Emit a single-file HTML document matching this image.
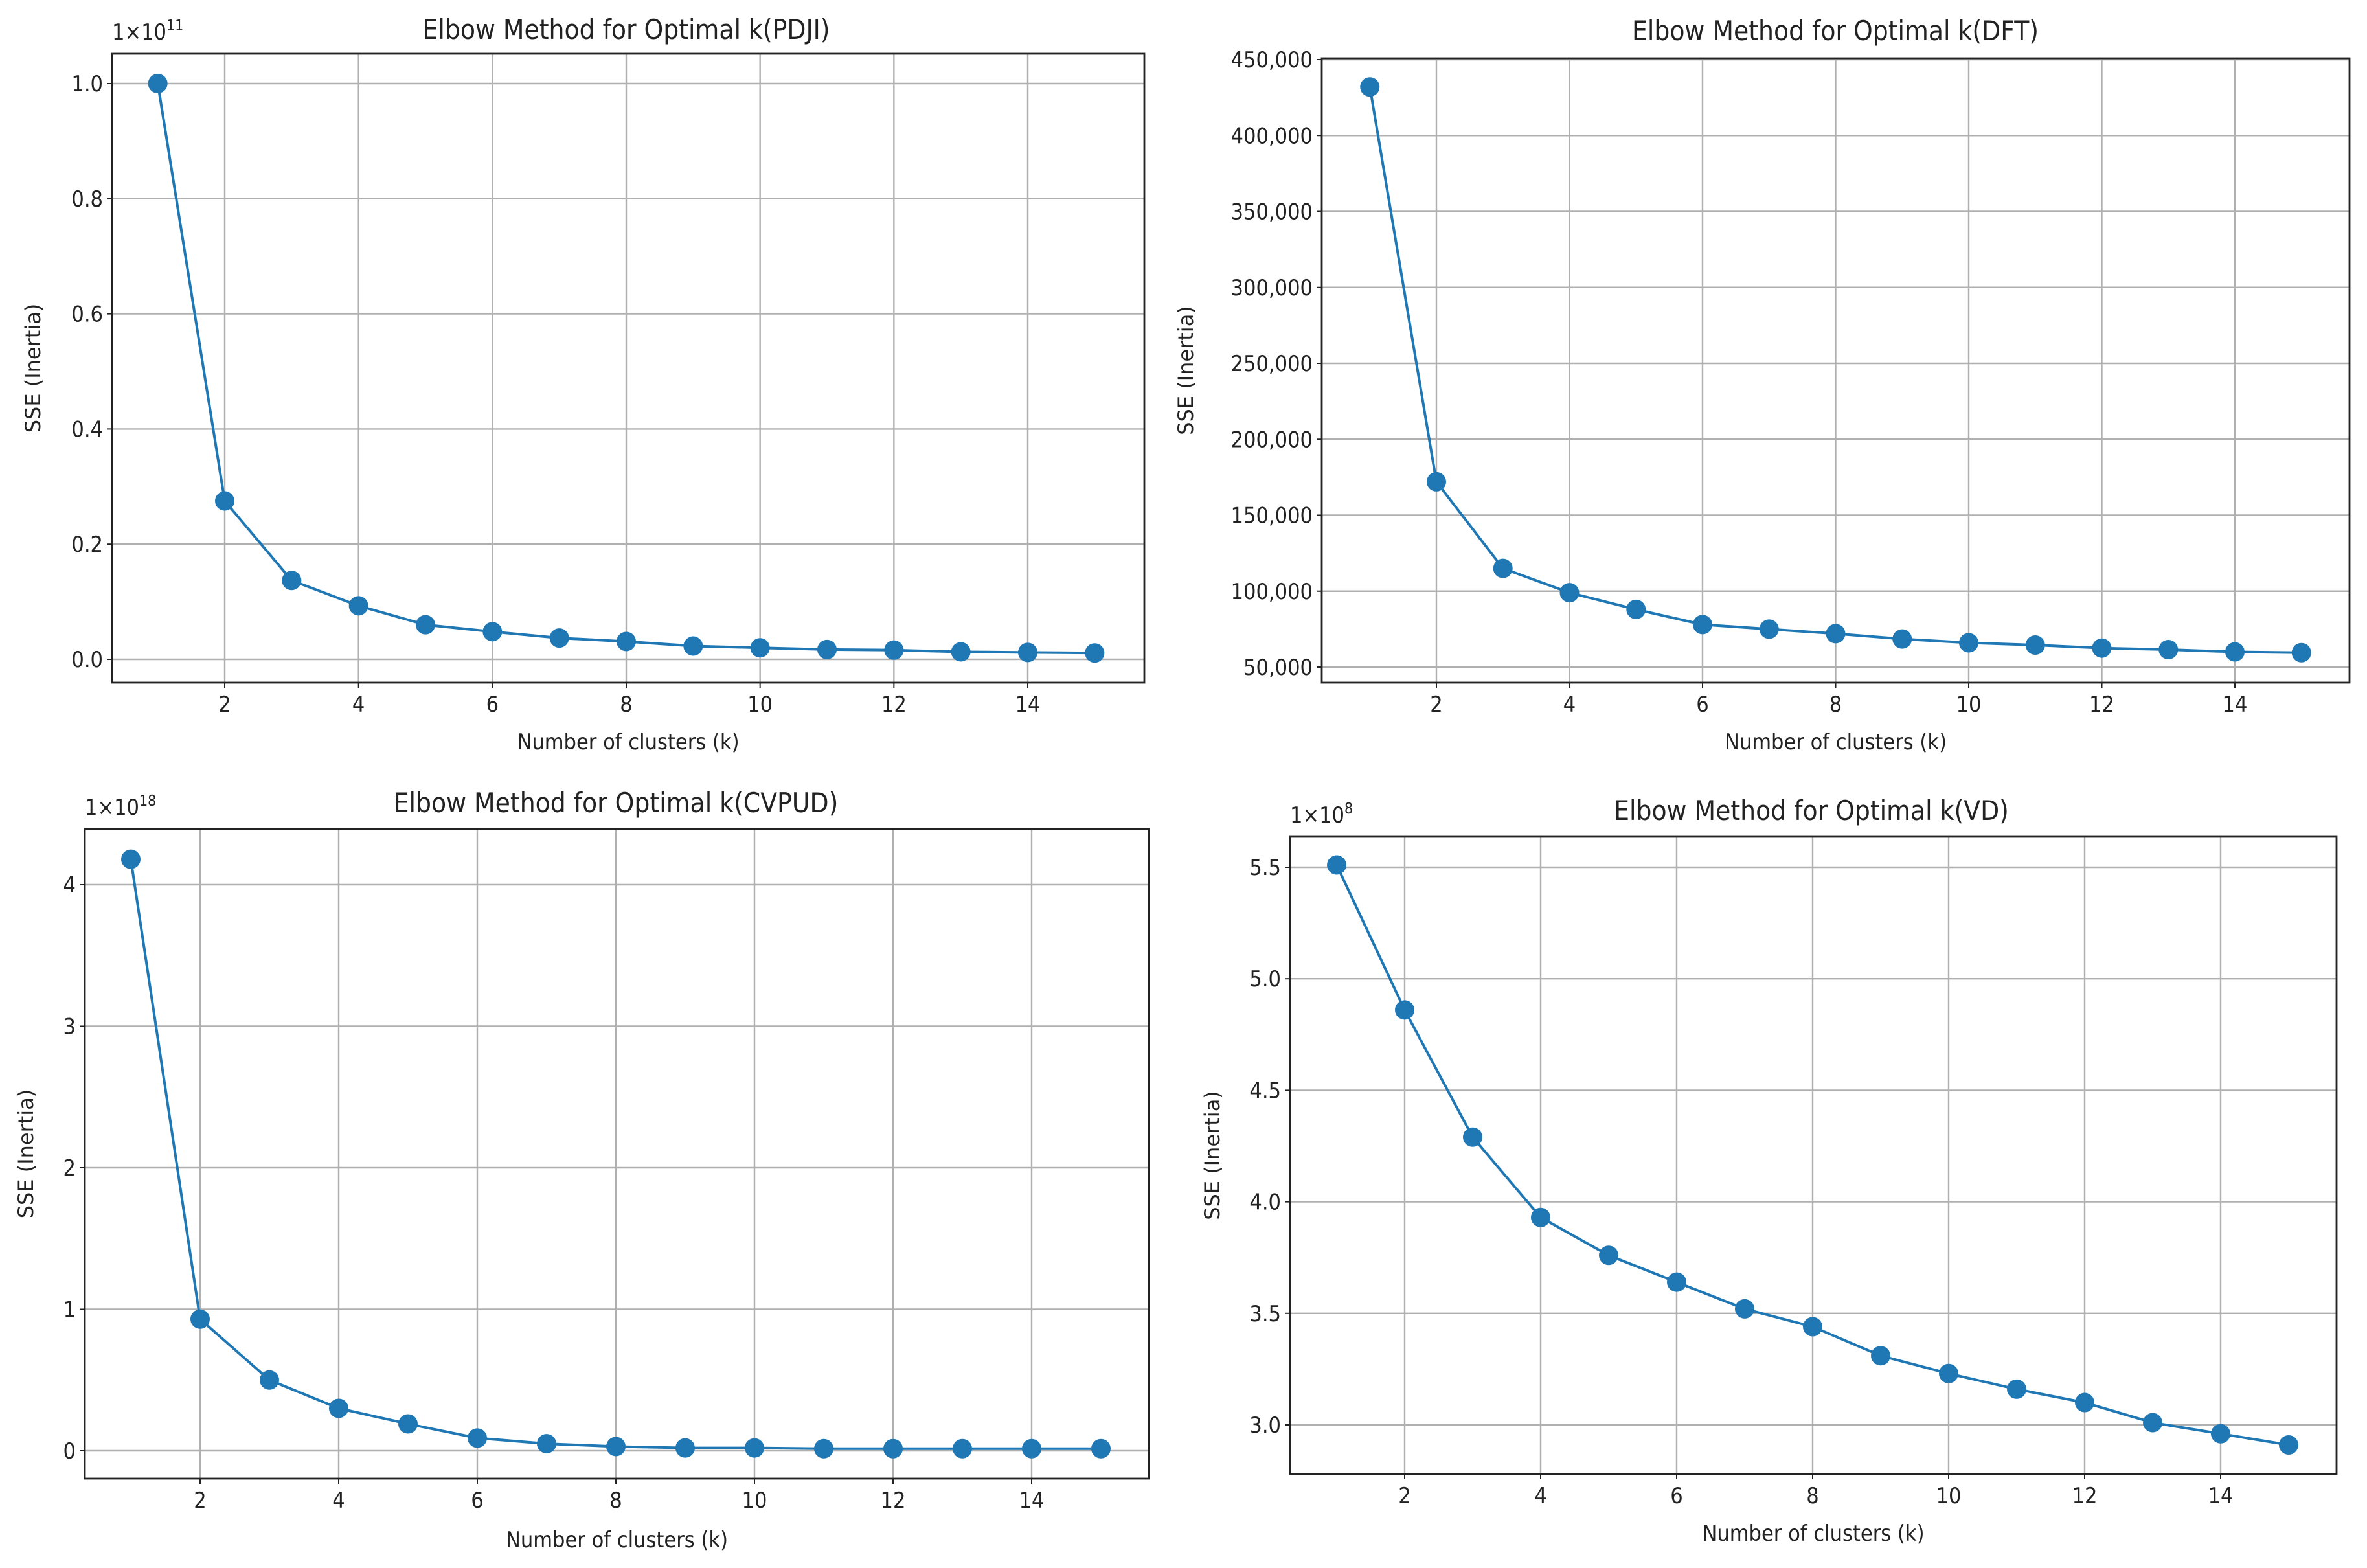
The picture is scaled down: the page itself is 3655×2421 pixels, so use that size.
<!DOCTYPE html>
<html><head><meta charset="utf-8">
<style>
html,body{margin:0;padding:0;background:#fff;}
svg{display:block;}
text{font-family:"DejaVu Sans Condensed","Liberation Sans Narrow","DejaVu Sans",sans-serif;fill:#222;}
.tick{font-size:34px;}
.title{font-size:42px;}
.lab{font-size:32px;font-family:"DejaVu Sans",sans-serif;}
</style></head>
<body>
<svg id="fig" width="3655" height="2421" viewBox="0 0 3655 2421" xmlns="http://www.w3.org/2000/svg"></svg>
<script>
const clusters = [1,2,3,4,5,6,7,8,9,10,11,12,13,14,15];
const xTicks = [2,4,6,8,10,12,14];
const pdjiValues = [1.0,0.275,0.137,0.093,0.060,0.048,0.037,0.031,0.023,0.020,0.017,0.016,0.013,0.012,0.011];
const pdjiTicks = [0.0,0.2,0.4,0.6,0.8,1.0];
const pdjiTickLabels = ["0.0","0.2","0.4","0.6","0.8","1.0"];
const dftValues = [432000,172000,115000,99000,88000,78000,75000,72000,68500,66000,64500,62500,61500,60000,59500];
const dftTicks = [50000,100000,150000,200000,250000,300000,350000,400000,450000];
const dftTickLabels = ["50,000","100,000","150,000","200,000","250,000","300,000","350,000","400,000","450,000"];
const cvpudValues = [4.18,0.93,0.50,0.30,0.19,0.09,0.05,0.03,0.02,0.02,0.015,0.015,0.015,0.015,0.015];
const cvpudTicks = [0,1,2,3,4];
const cvpudTickLabels = ["0","1","2","3","4"];
const vdValues = [5.51,4.86,4.29,3.93,3.76,3.64,3.52,3.44,3.31,3.23,3.16,3.10,3.01,2.96,2.91];
const vdTicks = [3.0,3.5,4.0,4.5,5.0,5.5];
const vdTickLabels = ["3.0","3.5","4.0","4.5","5.0","5.5"];

const NS="http://www.w3.org/2000/svg";
const svg=document.getElementById('fig');
function mk(tag,attrs,parent){const e=document.createElementNS(NS,tag);for(const k in attrs)e.setAttribute(k,attrs[k]);(parent||svg).appendChild(e);return e;}

function panel(cfg){
  const g=mk('g',{});
  
  
  const {L,R,T,B}=cfg;
  const xs=v=>cfg.x1px+(v-cfg.x1)*(cfg.x2px-cfg.x1px)/(cfg.x2-cfg.x1);
  const ys=v=>cfg.y1px+(v-cfg.y1)*(cfg.y2px-cfg.y1px)/(cfg.y2-cfg.y1);
  xTicks.forEach(t=>{
    const l=mk('line',{x1:xs(t),x2:xs(t),y1:T,y2:B,stroke:'#b0b0b0','stroke-width':2.4},g);
    
    
    mk('line',{x1:xs(t),x2:xs(t),y1:B,y2:B+8,stroke:'#222','stroke-width':2},g);
    const tx=mk('text',{x:xs(t),y:B+45,'text-anchor':'middle',class:'tick'},g);
    tx.textContent=t;
    
    
  });
  cfg.yt.forEach((t,i)=>{
    const l=mk('line',{x1:L,x2:R,y1:ys(t),y2:ys(t),stroke:'#b0b0b0','stroke-width':2.4},g);
    
    
    mk('line',{x1:L-8,x2:L,y1:ys(t),y2:ys(t),stroke:'#222','stroke-width':2},g);
    const tx=mk('text',{x:L-14,y:ys(t)+12,'text-anchor':'end',class:'tick'},g);
    tx.textContent=cfg.ytl[i];
    
    
  });
  const pts=clusters.map((c,i)=>xs(c)+','+ys(cfg.vals[i])).join(' ');
  const pl=mk('polyline',{points:pts,fill:'none',stroke:'#1f77b4','stroke-width':4},g);
  
  
  clusters.forEach((c,i)=>{
    const ci=mk('circle',{cx:xs(c),cy:ys(cfg.vals[i]),r:15,fill:'#1f77b4'},g);
    
    
  });
  const fr=mk('rect',{x:L,y:T,width:R-L,height:B-T,fill:'none',stroke:'#222','stroke-width':2.8},g);
  
  
  const ti=mk('text',{x:cfg.tx,y:cfg.ty,'text-anchor':'middle',class:'title'},g);
  ti.textContent=cfg.title;
  
  
  const xl=mk('text',{x:(L+R)/2,y:cfg.xly,'text-anchor':'middle',class:'tick'},g);
  xl.textContent='Number of clusters (k)';
  
  
  const yl=mk('text',{x:0,y:0,'text-anchor':'middle',class:'lab',transform:`translate(${cfg.ylx},${(T+B)/2}) rotate(-90)`},g);
  yl.textContent='SSE (Inertia)';
  
  
  if(cfg.off){
    const o=mk('text',{x:L,y:T-22,class:'tick'},g);
    o.innerHTML='1×10<tspan font-size="23" dy="-14">'+cfg.off+'</tspan>';
    
    
  }
}

panel({id:'pdji',L:173,R:1767,T:83,B:1054,x1:2,x1px:347,x2:14,x2px:1587,y1:0,y1px:1018,y2:1,y2px:129,
  vals:pdjiValues,yt:pdjiTicks,ytl:pdjiTickLabels,title:'Elbow Method for Optimal k(PDJI)',tx:967,ty:60,xly:1157,ylx:62,off:'11'});
panel({id:'dft',L:2041,R:3628,T:90,B:1054,x1:2,x1px:2218,x2:14,x2px:3451,y1:50000,y1px:1030,y2:450000,y2px:92,
  vals:dftValues,yt:dftTicks,ytl:dftTickLabels,title:'Elbow Method for Optimal k(DFT)',tx:2834,ty:62,xly:1157,ylx:1842,off:null});
panel({id:'cvpud',L:131,R:1774,T:1280,B:2283,x1:2,x1px:309,x2:14,x2px:1593,y1:0,y1px:2240,y2:4,y2px:1366,
  vals:cvpudValues,yt:cvpudTicks,ytl:cvpudTickLabels,title:'Elbow Method for Optimal k(CVPUD)',tx:951,ty:1254,xly:2389,ylx:51,off:'18'});
panel({id:'vd',L:1992,R:3608,T:1292,B:2276,x1:2,x1px:2169,x2:14,x2px:3429,y1:3.0,y1px:2200,y2:5.5,y2px:1339,
  vals:vdValues,yt:vdTicks,ytl:vdTickLabels,title:'Elbow Method for Optimal k(VD)',tx:2797,ty:1266,xly:2379,ylx:1883,off:'8'});
</script>
</body></html>
